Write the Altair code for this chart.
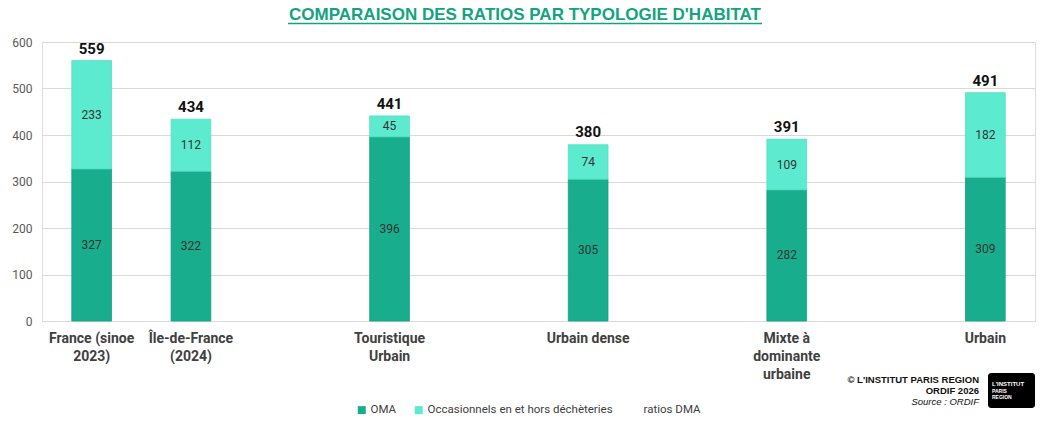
import altair as alt
import pandas as pd

# ---- data ----
categories = [
    "France (sinoe\n2023)",
    "Île-de-France\n(2024)",
    "Touristique\nUrbain",
    "Urbain dense",
    "Mixte à\ndominante\nurbaine",
    "Urbain",
]
oma = [327, 322, 396, 305, 282, 309]
occasionnels = [233, 112, 45, 74, 109, 182]
ratios_dma = [559, 434, 441, 380, 391, 491]
series_names = ["OMA", "Occasionnels en et hors déchèteries", "ratios DMA"]
y_ticks = [0, 100, 200, 300, 400, 500, 600]

# x domain with empty slots between groups
x_domain = [categories[0], categories[1], " ", categories[2], "  ",
            categories[3], "   ", categories[4], "    ", categories[5]]

rows = []
for c, a, b in zip(categories, oma, occasionnels):
    rows.append({"cat": c, "serie": series_names[0], "value": a, "ordre": 0})
    rows.append({"cat": c, "serie": series_names[1], "value": b, "ordre": 1})
df = pd.DataFrame(rows)
df_tot = pd.DataFrame({"cat": categories, "total": ratios_dma})

C_OMA = "#18AE8D"
C_OCC = "#5DEBCF"

x_enc = alt.X(
    "cat:N",
    scale=alt.Scale(domain=x_domain, paddingInner=0.6, paddingOuter=0.3),
    axis=alt.Axis(
        title=None, labelAngle=0, ticks=False, domainColor="#d9d9d9",
        labelFont="Roboto", labelFontWeight="bold", labelFontSize=14,
        labelColor="#404040", labelPadding=10, labelLineHeight=18,
        labelExpr="split(datum.label, '\\n')",
    ),
)
y_scale = alt.Scale(domain=[0, 600], nice=False)

base = alt.Chart(df).transform_stack(
    stack="value", groupby=["cat"], as_=["v0", "v1"],
    sort=[alt.SortField("ordre", order="ascending")],
)

bars = base.mark_bar(strokeWidth=0.8).encode(
    x=x_enc,
    y=alt.Y("v0:Q", scale=y_scale, axis=alt.Axis(
        title=None, values=y_ticks, ticks=False, domain=False,
        labelFont="Roboto", labelFontSize=12, labelColor="#595959",
        labelPadding=10, gridColor="#d9d9d9")),
    y2="v1:Q",
    color=alt.Color("serie:N", scale=alt.Scale(
        domain=series_names, range=[C_OMA, C_OCC, "rgba(0,0,0,0)"]),
        legend=alt.Legend(
            title=None, orient="none", direction="horizontal",
            legendX=314, legendY=362, symbolType="square", symbolSize=64,
            symbolStrokeWidth=0, labelFont="Roboto", labelFontSize=11.5,
            labelColor="#404040", columnPadding=16, labelOffset=3,
            labelLimit=0)),
    stroke=alt.Stroke("serie:N", scale=alt.Scale(
        domain=series_names, range=["#12A282", "#52E0C2", "rgba(0,0,0,0)"]),
        legend=None),
    order=alt.Order("ordre:Q"),
)

inner = base.transform_calculate(mid="(datum.v0 + datum.v1) / 2").mark_text(
    font="Roboto", fontSize=12, color="#333333"
).encode(
    x=alt.X("cat:N", scale=alt.Scale(domain=x_domain)),
    y=alt.Y("mid:Q", scale=y_scale),
    text=alt.Text("value:Q"),
)

totals = alt.Chart(df_tot).mark_text(
    font="Roboto", fontSize=15, fontWeight="bold", color="#111111",
    baseline="bottom", dy=-4,
).encode(
    x=alt.X("cat:N", scale=alt.Scale(domain=x_domain)),
    y=alt.Y("total:Q", scale=y_scale),
    text=alt.Text("total:Q"),
)

one = pd.DataFrame({"k": [0]})

title = alt.Chart(one).mark_text(
    font="Liberation Sans", fontSize=17, fontWeight="bold", color="#13A37F",
    align="center", baseline="alphabetic",
).encode(x=alt.value(483), y=alt.value(-22),
         text=alt.value("COMPARAISON DES RATIOS PAR TYPOLOGIE D'HABITAT"))

underline = alt.Chart(one).mark_rule(color="#13A37F", strokeWidth=1.5).encode(
    x=alt.value(246), x2=alt.value(720), y=alt.value(-18.5))

credit1 = alt.Chart(one).mark_text(
    font="Liberation Sans", fontSize=9.5, fontWeight="bold", color="#111111",
    align="right").encode(x=alt.value(937), y=alt.value(338),
                          text=alt.value("© L'INSTITUT PARIS REGION"))
credit2 = alt.Chart(one).mark_text(
    font="Liberation Sans", fontSize=9.5, fontWeight="bold", color="#111111",
    align="right").encode(x=alt.value(937), y=alt.value(349),
                          text=alt.value("ORDIF 2026"))
credit3 = alt.Chart(one).mark_text(
    font="Liberation Sans", fontSize=9.5, fontStyle="italic", color="#111111",
    align="right").encode(x=alt.value(937), y=alt.value(360),
                          text=alt.value("Source : ORDIF"))

logo = alt.Chart(one).mark_rect(color="#000000", cornerRadius=3).encode(
    x=alt.value(946), x2=alt.value(993), y=alt.value(331), y2=alt.value(366))
logo_t1 = alt.Chart(one).mark_text(
    font="Liberation Sans", fontSize=6, fontWeight="bold", color="white",
    align="left").encode(x=alt.value(950), y=alt.value(342),
                         text=alt.value("L'INSTITUT"))
logo_t2 = alt.Chart(one).mark_text(
    font="Liberation Sans", fontSize=5, fontWeight="bold", color="white",
    align="left").encode(x=alt.value(950), y=alt.value(349),
                         text=alt.value("PARIS"))
logo_t3 = alt.Chart(one).mark_text(
    font="Liberation Sans", fontSize=5, fontWeight="bold", color="white",
    align="left").encode(x=alt.value(950), y=alt.value(355),
                         text=alt.value("REGION"))

chart = alt.layer(
    bars, inner, totals, title, underline, credit1, credit2, credit3,
    logo, logo_t1, logo_t2, logo_t3,
).properties(
    width=993, height=279,
    autosize=alt.AutoSizeParams(type="none"),
    padding={"left": 34, "top": 34, "right": 5, "bottom": 95},
).configure_view(stroke=None).configure(background="white")

chart.save("out.html", embed_options={"renderer": "svg", "actions": False})
